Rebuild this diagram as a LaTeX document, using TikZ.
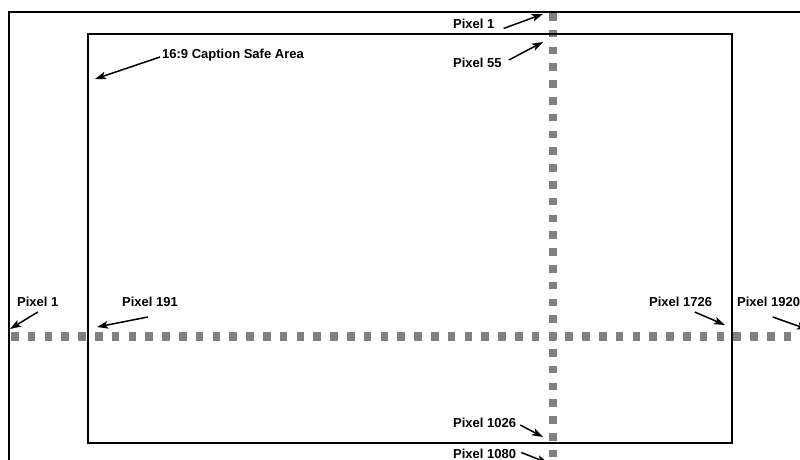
\documentclass[tikz,border=0pt]{standalone}
\usepackage{fontspec}
\setmainfont{Liberation Sans}
\usetikzlibrary{arrows.meta}
\begin{document}
\begin{tikzpicture}[x=1pt,y=-1pt]

      \useasboundingbox (0,0) rectangle (800,459);

      % pixel rows
      \begin{scope}[every path/.style={draw=gray,line width=8.5pt,dash pattern=on 7.6pt off 9.2pt}]
        \path (11,336.5) -- (812,336.5);
        \path (553,13) -- (553,470);
      \end{scope}

      % frames
      \draw[line width=1.5pt] (9,470) -- (9,12) -- (812,12);
      \draw[line width=1.6pt] (88,34) rectangle (732,443);

      \begin{scope}[every node/.style={anchor=west,inner sep=0pt,font=\bfseries\fontsize{13}{14}\selectfont}]
        \node (top1)   at (453,23.5) {Pixel 1};
        \node (top55)  at (453,63)   {Pixel 55};
        \node (safe)   at (162,55.5) {16:9 Caption Safe Area};
        \node (left1)  at (17,302)   {Pixel 1};
        \node (left191) at (122,302) {Pixel 191};
        \node (right1726) at (649,302) {Pixel 1726};
        \node (right1920) at (737,302) {Pixel 1920};
        \node (bot1026) at (453,423) {Pixel 1026};
        \node (bot1080) at (453,453.5) {Pixel 1080};
      \end{scope}

      \coordinate (tip1)    at (543,14);
      \coordinate (tip55)   at (543,42);
      \coordinate (tipsafe) at (95,79);
      \coordinate (tipl1)   at (10,329);
      \coordinate (tipl191) at (97,327);
      \coordinate (tipr1726) at (725,325);
      \coordinate (tipr1920) at (808,329.5);
      \coordinate (tip1026) at (543,437);
      \coordinate (tip1080) at (548,463);

      \begin{scope}[every edge/.style={draw,line width=1.5pt,-{Stealth[length=11pt,width=7.5pt,inset=2.5pt]}}]
        \path ([xshift=9pt]top1.south east) edge (tip1);
        \path ([xshift=7pt,yshift=3pt]top55.east) edge (tip55);
        \path ([xshift=-2pt,yshift=-1.5pt]safe.west) edge (tipsafe);
        \path ([yshift=-5pt]left1.south) edge (tipl1);
        \path ([xshift=-2pt,yshift=-10pt]left191.south) edge (tipl191);
        \path ([xshift=14pt,yshift=-5pt]right1726.south) edge (tipr1726);
        \path ([xshift=4pt,yshift=-10pt]right1920.south) edge (tipr1920);
        \path ([xshift=4pt,yshift=-2pt]bot1026.east) edge (tip1026);
        \path ([xshift=5pt,yshift=1pt]bot1080.east) edge (tip1080);
      \end{scope}

    \end{tikzpicture}
\end{document}
